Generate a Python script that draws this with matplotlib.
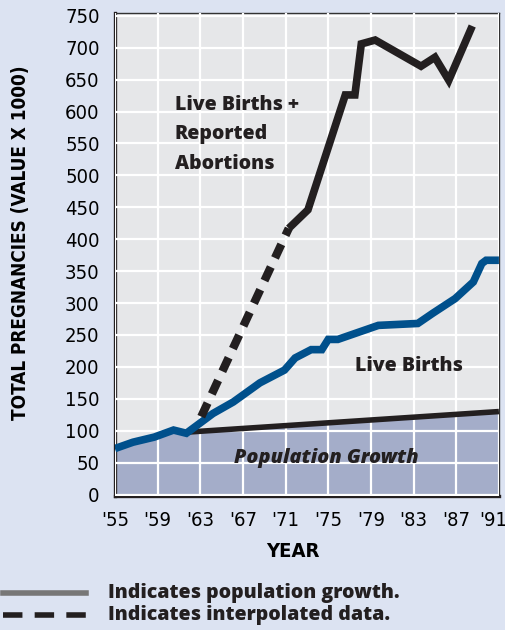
import matplotlib
matplotlib.use('Agg')
from matplotlib import pyplot as plt
from matplotlib import transforms

# data
tick_years = [1955, 1959, 1963, 1967, 1971, 1975, 1979, 1983, 1987, 1991]
tick_labels = ["'55", "'59", "'63", "'67", "'71", "'75", "'79", "'83", "'87", "'91"]
y_ticks = list(range(0, 751, 50))

live_years = [1955, 1956.7, 1958.7, 1960.5, 1961.7, 1964.2, 1966.1, 1968.6, 1970.9,
              1971.9, 1973.4, 1974.4, 1975.0, 1975.9, 1979.7, 1983.4, 1984.8,
              1986.9, 1988.6, 1989.4, 1989.8, 1991]
live_births = [72, 82, 90, 101, 96, 127, 145, 175, 195, 214, 227, 227, 243, 243,
               265, 268, 284, 307, 333, 362, 367, 367]

total_years = [1971.3, 1973.1, 1976.6, 1977.5, 1978.1, 1979.4, 1983.7, 1985.0, 1986.3, 1988.5]
total_preg = [417, 446, 626, 626, 706, 712, 671, 685, 649, 734]

interp_years = [1963.1, 1971.3]
interp_vals = [122, 417]

pop_years = [1955, 1956.7, 1958.7, 1960.5, 1961.7, 1962, 1991]
pop_vals = [72, 82, 90, 101, 96, 98, 130]

bg = '#DCE3F2'
bold = dict(fontfamily=['Open Sans', 'DejaVu Sans'], fontweight='heavy', color='#231F20')
cond = dict(fontfamily='DejaVu Sans', fontstretch='condensed')

fig = plt.figure(figsize=(5.06, 6.30), dpi=100, facecolor=bg)
ax = fig.add_axes([0.227, 0.213, 0.759, 0.767])
ax.set_facecolor('#E6E7E9')

ax.fill_between(pop_years, pop_vals, 0, color='#A4ADC9', zorder=1, linewidth=0)
ax.set_xticks(tick_years)
ax.set_yticks(y_ticks)
ax.grid(True, color='white', linewidth=1.6, zorder=2)
ax.set_axisbelow(False)
for gl in ax.get_xgridlines() + ax.get_ygridlines():
    gl.set_zorder(2)

ax.plot(pop_years[5:], pop_vals[5:], color='#231F20', linewidth=4, zorder=3,
        solid_capstyle='butt')
ax.plot(live_years, live_births, color='#00508C', linewidth=5.5, zorder=4,
        solid_joinstyle='miter', solid_capstyle='butt')
ax.plot(total_years, total_preg, color='#231F20', linewidth=5.5, zorder=4,
        solid_joinstyle='miter', solid_capstyle='butt')
ax.plot(interp_years, interp_vals, color='#231F20', linewidth=6, zorder=4,
        linestyle=(0, (1.8, 1.2)), dash_capstyle='butt')

ax.set_xlim(1955, 1991)
ax.set_ylim(-2, 755)
ax.set_xticklabels(tick_labels, fontsize=14.5, **cond)
ax.set_yticklabels([str(v) for v in y_ticks], fontsize=14.5, **cond)
ax.tick_params(length=0, pad=11)
ax.tick_params(axis='x', pad=11)
last = ax.get_xticklabels()[-1]
last.set_transform(last.get_transform() + transforms.ScaledTranslation(-6 / 100, 0, fig.dpi_scale_trans))

for side in ['left', 'bottom']:
    ax.spines[side].set_linewidth(2.4)
    ax.spines[side].set_color('#231F20')
for side in ['top', 'right']:
    ax.spines[side].set_linewidth(1)
    ax.spines[side].set_color('#333333')

ax.set_xlabel('YEAR', fontweight='bold', fontsize=14.5, va='center', **cond)
ax.xaxis.set_label_coords(0.464, -0.116)
ax.set_ylabel('TOTAL PREGNANCIES (VALUE X 1000)', fontweight='bold',
              fontsize=13.6, va='center', **cond)
ax.yaxis.set_label_coords(-0.247, 0.524)

ax.text(1960.6, 626, 'Live Births +\nReported\nAbortions', fontsize=14,
        va='top', linespacing=1.62, zorder=5, **bold)
ax.text(1977.5, 202, 'Live Births', fontsize=14, va='center', zorder=5, **bold)
ax.text(1966.2, 58, 'Population Growth', fontstyle='italic', fontsize=14.3,
        va='center', zorder=5, **bold)

# legend under the chart
fig.add_artist(plt.Line2D([3 / 506, 86 / 506], [1 - 593 / 630] * 2, color='#777777',
                          linewidth=4))
fig.add_artist(plt.Line2D([3 / 506, 86 / 506], [1 - 615 / 630] * 2, color='#231F20',
                          linewidth=4, linestyle=(0, (3.5, 2.2)), dash_capstyle='butt'))
fig.text(108 / 506, 1 - 593 / 630, 'Indicates population growth.', fontsize=14,
         va='center', **bold)
fig.text(108 / 506, 1 - 615 / 630, 'Indicates interpolated data.', fontsize=14,
         va='center', **bold)

fig.savefig('out.png', dpi=100, facecolor=bg)
